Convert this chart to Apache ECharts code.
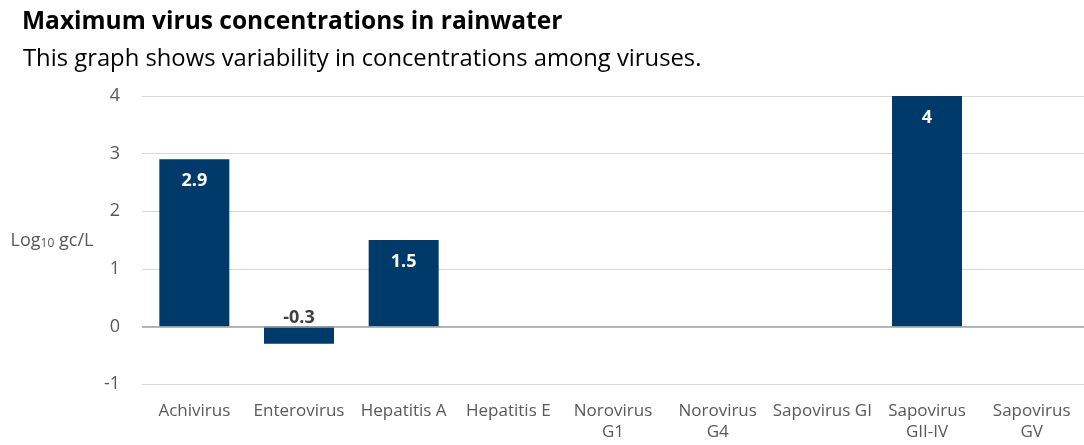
<!DOCTYPE html>
<html>
<head>
<meta charset="utf-8">
<script src="https://cdn.jsdelivr.net/npm/echarts@6/dist/echarts.min.js"></script>
<style>
  html, body { margin: 0; padding: 0; background: #fff; }
  #chart { width: 1084px; height: 445px; }
</style>
</head>
<body>
<div id="chart"></div>
<script>
var viruses = ['Achivirus', 'Enterovirus', 'Hepatitis A', 'Hepatitis E', 'Norovirus\nG1', 'Norovirus\nG4', 'Sapovirus GI', 'Sapovirus\nGII-IV', 'Sapovirus\nGV'];
var maxConc = [2.9, -0.3, 1.5, null, null, null, null, 4, null];
var yTicks = [-1, 0, 1, 2, 3, 4];

var barColor = '#003A6B';
var font = 'Open Sans';

// negative bars get the label above the zero line in grey
var barData = maxConc.map(function (v) {
  if (v == null) return null;
  if (v < 0) {
    return {
      value: v,
      label: { position: 'top', color: '#404040', distance: 0 }
    };
  }
  return v;
});

var myChart = echarts.init(document.getElementById('chart'));
myChart.setOption({
  animation: false,
  title: [{
    text: 'Maximum virus concentrations in rainwater',
    left: 17,
    top: 5,
    textStyle: { fontFamily: font, fontWeight: 'bold', fontSize: 24.5, color: '#000' }
  }, {
    text: 'This graph shows variability in concentrations among viruses.',
    left: 18,
    top: 42,
    textStyle: { fontFamily: font, fontWeight: 'normal', fontSize: 23.8, color: '#000' }
  }],
  grid: { left: 142, right: 0, top: 96, bottom: 61 },
  xAxis: {
    type: 'category',
    data: viruses,
    axisLine: { show: false, onZero: false },
    axisTick: { show: false },
    axisLabel: {
      interval: 0,
      margin: 17,
      color: '#595959',
      fontFamily: font,
      fontSize: 17,
      lineHeight: 21
    }
  },
  yAxis: {
    type: 'value',
    min: yTicks[0],
    max: yTicks[yTicks.length - 1],
    interval: 1,
    name: '{a|Log}{s|10}{a| gc/L}',
    nameLocation: 'middle',
    nameRotate: 0,
    nameGap: 90,
    nameTextStyle: {
      align: 'center',
      rich: {
        a: { fontFamily: font, fontSize: 18, color: '#595959', verticalAlign: 'bottom' },
        s: { fontFamily: font, fontSize: 12, color: '#595959', padding: [7, 0, 0, 0], verticalAlign: 'bottom' }
      }
    },
    axisLine: { show: false },
    axisTick: { show: false },
    axisLabel: { margin: 22, color: '#595959', fontFamily: font, fontSize: 18 },
    splitLine: { lineStyle: { color: '#d9d9d9', width: 1 } }
  },
  series: [{
    type: 'bar',
    data: barData,
    barWidth: 70,
    itemStyle: { color: barColor },
    label: {
      show: true,
      position: 'insideTop',
      distance: 13,
      color: '#fff',
      fontFamily: font,
      fontWeight: 'bold',
      fontSize: 18
    },
    markLine: {
      silent: true,
      symbol: 'none',
      label: { show: false },
      lineStyle: { color: '#a0a0a0', type: 'solid', width: 1.5 },
      data: [{ yAxis: 0 }]
    }
  }]
});
</script>
</body>
</html>
